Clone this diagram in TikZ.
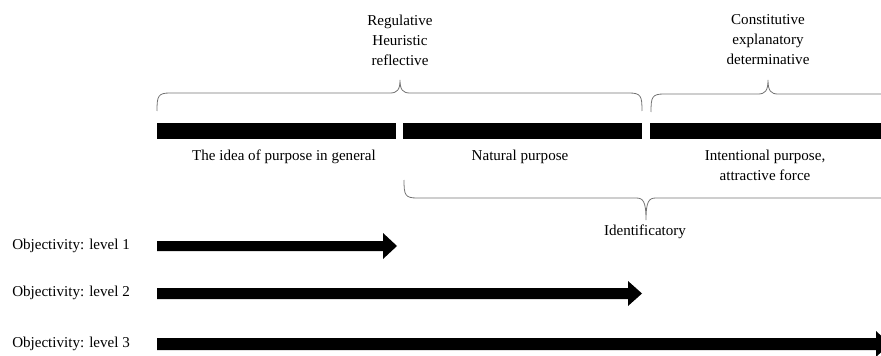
\documentclass[tikz,border=0pt]{standalone}
\usepackage{fontspec}
\setmainfont{Liberation Serif}
\begin{document}
\begin{tikzpicture}[x=0.75pt,y=-0.75pt,
  lbl/.style={font=\fontsize{11.3}{15}\selectfont, align=center, inner sep=0pt},
  brc/.style={draw=black!55, line width=0.6pt},
  bar/.style={fill=black},
  arr/.style={fill=black}]
\clip (0,0) rectangle (881,356);
\useasboundingbox (0,0) rectangle (881,356);
% top texts
\node[lbl] (reg) at (400,40) {Regulative\\Heuristic\\reflective};
\node[lbl] (con) at (768,40) {Constitutive\\explanatory\\determinative};
% braces
\draw[brc] (157,111) .. controls (157,96) and (158,93) .. (170,93) -- (390,93)
  .. controls (397,93) and (400,90) .. (400,80)
  .. controls (400,90) and (403,93) .. (410,93) -- (629,93)
  .. controls (641,93) and (642,96) .. (642,111);
\draw[brc] (651,112) .. controls (651,97) and (652,94) .. (664,94) -- (758,94)
  .. controls (765,94) and (768,91) .. (768,80)
  .. controls (768,91) and (771,94) .. (778,94) -- (900,94);
% bars
\fill[bar] (157,123) rectangle (396,139);
\fill[bar] (403,123) rectangle (642,139);
\fill[bar] (650,123) rectangle (890,139);
% bar labels
\node[lbl] (gen) at (284,157) {The idea of purpose in general};
\node[lbl] (nat) at (520,157) {Natural purpose};
\node[lbl] (int) at (765,165) {Intentional purpose,\\attractive force};
% bottom brace
\draw[brc] (404,180) .. controls (404,195) and (405,198) .. (417,198) -- (636,198)
  .. controls (643,198) and (646,201) .. (646,220)
  .. controls (646,201) and (649,198) .. (656,198) -- (900,198);
\node[lbl] (ide) at (645,232) {Identificatory};
% level labels
\node[lbl, anchor=west] (l1) at (12,246) {Objectivity: level 1};
\node[lbl, anchor=west] (l2) at (12,293) {Objectivity: level 2};
\node[lbl, anchor=west] (l3) at (12,344) {Objectivity: level 3};
% arrows
\fill[arr] (157,241) -- (383,241) -- (383,233) -- (397,246) -- (383,259) -- (383,251) -- (157,251) -- cycle;
\fill[arr] (157,288) -- (628,288) -- (628,281) -- (642,293.5) -- (628,306) -- (628,299) -- (157,299) -- cycle;
\fill[arr] (157,338) -- (876,338) -- (876,331) -- (890,344) -- (876,357) -- (876,350) -- (157,350) -- cycle;
\end{tikzpicture}
\end{document}
